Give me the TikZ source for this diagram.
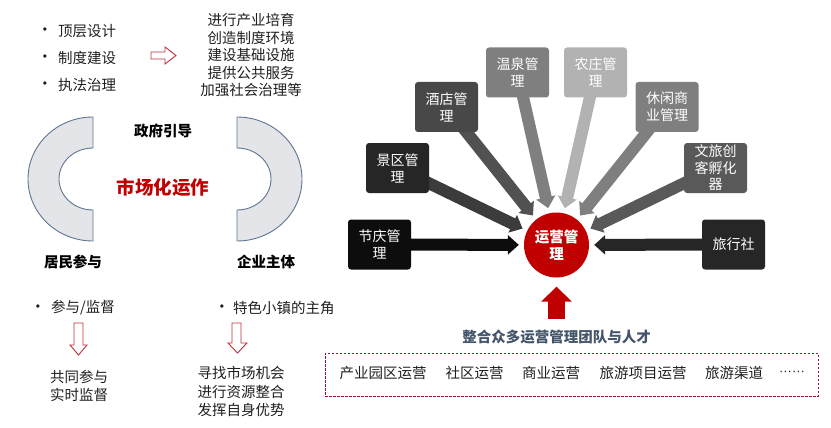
\documentclass[tikz,border=0pt]{standalone}
\usepackage{fontspec}
\setmainfont{Noto Sans CJK SC}
\newfontfamily\latinfont{Liberation Sans}
\usetikzlibrary{arrows.meta,backgrounds,calc}
\newcommand\myfs[2]{\fontsize{#1pt}{#2pt}\selectfont}
\definecolor{cred}{HTML}{C00000}
\definecolor{ctext}{HTML}{1F1F1F}
\definecolor{cfill}{HTML}{E3E5E8}
\definecolor{cline}{HTML}{5F7592}
\definecolor{chollow}{HTML}{C0303A}
\definecolor{cteam}{HTML}{44546A}
\definecolor{cdash}{HTML}{A0102A}
\definecolor{gA}{HTML}{0D0D0D}
\definecolor{gB}{HTML}{262626}
\definecolor{gC}{HTML}{484848}
\definecolor{gD}{HTML}{7F7F7F}
\definecolor{gE}{HTML}{B2B2B2}
\definecolor{gF}{HTML}{595959}
\begin{document}
\begin{tikzpicture}[x=1pt,y=-1pt,
  txt/.style={inner sep=0pt, font=\myfs{14.5}{17.5}, text=ctext, align=center},
  bul/.style={inner sep=0pt, font=\latinfont\myfs{12}{14}, text=ctext},
  hd/.style={inner sep=0pt, font=\myfs{14.5}{17.5}\bfseries, text=black},
  box/.style={rounded corners=3pt, minimum width=63pt, minimum height=50pt, inner sep=0pt, text=white, align=center, font=\myfs{14}{17}},
  ray/.style={line width=12pt, -{Triangle[width=19pt,length=11pt]}, shorten >=5pt},
  hollow/.style={draw=chollow, line width=0.9pt, fill=white, line join=miter},
  cshape/.style={draw=cline, fill=cfill, line width=0.9pt}
]
\useasboundingbox (0,0) rectangle (831,428);

% ---------- left top ----------
\node[bul] (b1) at (45,31) {\textbullet};
\node[txt, anchor=west] (t1) at (58,31) {顶层设计};
\node[bul] (b2) at (45,58) {\textbullet};
\node[txt, anchor=west] (t2) at (58,58) {制度建设};
\node[bul] (b3) at (45,85) {\textbullet};
\node[txt, anchor=west] (t3) at (58,85) {执法治理};

\draw[hollow] (151,52) -- (165,52) -- (165,47) -- (176,55.5) -- (165,64) -- (165,59) -- (151,59) -- cycle;

\node[txt] (gov) at (251,55) {进行产业培育\\创造制度环境\\建设基础设施\\提供公共服务\\加强社会治理等};

% ---------- C shapes ----------
\draw[cshape] (93,117) arc[start angle=270, end angle=90, x radius=65, y radius=62]
  -- (93,210) arc[start angle=90, end angle=270, x radius=34, y radius=31] -- cycle;
\draw[cshape] (237,117) arc[start angle=-90, end angle=90, x radius=65, y radius=62]
  -- (237,210) arc[start angle=90, end angle=-90, x radius=34, y radius=31] -- cycle;

\node[hd] (zf) at (163,131) {政府引导};
\node[inner sep=0pt, font=\myfs{18.5}{22}\bfseries, text=cred] (sc) at (163,187) {市场化运作};
\node[hd] (jm) at (73,262) {居民参与};
\node[hd] (qy) at (266,262) {企业主体};

% ---------- left bottom ----------
\node[bul] (b4) at (38,308) {\textbullet};
\node[txt, anchor=west] (t4) at (51,308) {参与/监督};
\draw[hollow] (74,323) -- (83,323) -- (83,345) -- (87,345) -- (78.5,355) -- (70,345) -- (74,345) -- cycle;
\node[txt] (t5) at (79,386) {共同参与\\实时监督};

\node[bul] (b6) at (222,308) {\textbullet};
\node[txt, anchor=west] (t6) at (233,308) {特色小镇的主角};
\draw[hollow] (232,323) -- (241,323) -- (241,343) -- (247,343) -- (237.5,353) -- (228,343) -- (232,343) -- cycle;
\node[txt, font=\myfs{14.5}{18.5}] (t7) at (241,391.5) {寻找市场机会\\进行资源整合\\发挥自身优势};

% ---------- right: hub ----------
\node[circle, fill=cred, minimum size=65pt, inner sep=0pt, text=white, align=center, font=\myfs{14.5}{17.5}\bfseries] (c) at (556.5,245) {运营管\\理};

\node[box, fill=gA] (jieqing) at (379.5,244.5) {节庆管\\理};
\node[box, fill=gB] (lvxing) at (733.5,244.5) {旅行社};
\node[box, fill=gB] (jingqu) at (397.5,168) {景区管\\理};
\node[box, fill=gC] (jiudian) at (446.5,107) {酒店管\\理};
\node[box, fill=gD] (wenquan) at (517.5,72.5) {温泉管\\理};
\node[box, fill=gE] (nongzhuang) at (595.5,72.5) {农庄管\\理};
\node[box, fill=gD] (xiuxian) at (667,107) {休闲商\\业管理};
\node[box, fill=gF, font=\myfs{14}{16.5}] (wenlv) at (715.5,168) {文旅创\\客孵化\\器};

\begin{pgfonlayer}{background}
\draw[ray, draw=gA] (jieqing.center) -- (c);
\draw[ray, draw=gB] (lvxing.center) -- (c);
\draw[ray, draw=gB!90!white] (jingqu.center) -- (c);
\draw[ray, draw=gC!95!white] (jiudian.center) -- (c);
\draw[ray, draw=gD] (wenquan.center) -- (c);
\draw[ray, draw=gE] (nongzhuang.center) -- (c);
\draw[ray, draw=gD] (xiuxian.center) -- (c);
\draw[ray, draw=gF] (wenlv.center) -- (c);
\end{pgfonlayer}

% ---------- team ----------
\node[inner sep=0pt, font=\myfs{14.5}{17.5}\bfseries, text=cteam] (team) at (556.5,337) {整合众多运营管理团队与人才};
\draw[line width=17pt, draw=cred, -{Triangle[width=30pt,length=15pt]}, shorten <=11pt, shorten >=9pt] (team.north) -- (c.south);

\node[draw=cdash, dashed, dash pattern=on 2.5pt off 1.5pt, line width=0.8pt, minimum width=493pt, minimum height=43pt, inner sep=0pt] (frame) at (571.5,374.5) {};
\node[txt] (i1) at (383,373) {产业园区运营};
\node[txt] (i2) at (474.5,373) {社区运营};
\node[txt] (i3) at (551,373) {商业运营};
\node[txt] (i4) at (643,373) {旅游项目运营};
\node[txt] (i5) at (734,373) {旅游渠道};
\node[txt, font=\latinfont\myfs{13}{15}] (i6) at (792,373) {······};
\end{tikzpicture}
\end{document}
